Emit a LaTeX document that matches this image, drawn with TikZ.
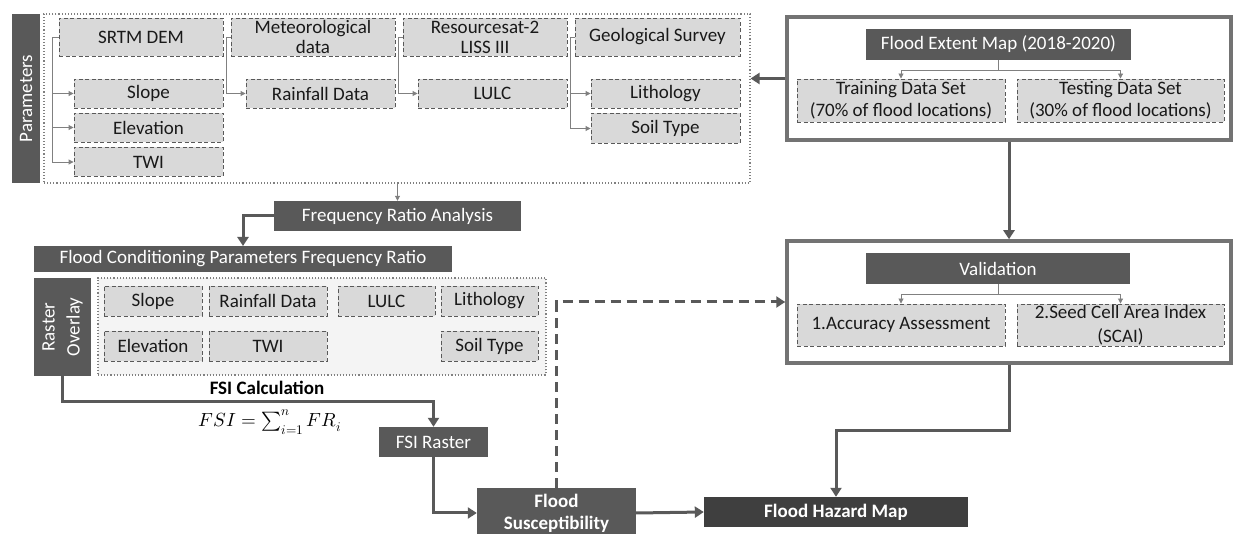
\documentclass[tikz,border=0pt]{standalone}
\usepackage{unicode-math}
\setmainfont{Carlito}
\setmathfont{Latin Modern Math}
\usetikzlibrary{arrows.meta}
\definecolor{boxdark}{HTML}{595959}
\definecolor{boxdarker}{HTML}{3F3F3F}
\definecolor{boxlight}{HTML}{D9D9D9}
\definecolor{framegray}{HTML}{737373}
\definecolor{linegray}{HTML}{808080}
\definecolor{innerfill}{HTML}{F4F4F4}
\tikzset{
  darkbox/.style={fill=boxdark,text=white,inner sep=0pt,align=center},
  lightbox/.style={fill=boxlight,draw=boxdark,dash pattern=on 4pt off 2.5pt,line width=0.9pt,
    inner sep=0pt,align=center,text=black!90},
  framebox/.style={draw=framegray,line width=3.5pt,fill=white,inner sep=0pt},
  dotframe/.style={draw=linegray,dotted,line width=1.1pt,inner sep=0pt},
  thinarrow/.style={draw=linegray,line width=0.9pt,-{Triangle[length=5pt,width=5pt]}},
  thickarrow/.style={draw=boxdark,line width=3pt,-{Triangle[length=9pt,width=11pt]}},
  dasharrow/.style={thickarrow,dash pattern=on 10pt off 6pt},
}
\begin{document}
\begin{tikzpicture}[x=1pt,y=-1pt]
  \useasboundingbox (0,0) rectangle (1235,534);
  {\fontsize{19}{20}\selectfont

  % Drawing parameters frame
  \node (paramsframe) [dotframe,fill=white,minimum width=706pt,minimum height=169pt] at (397,98.5) {};
  \node (params) [darkbox,rotate=90,minimum width=169pt,minimum height=28pt] at (26,98.5) {Parameters};

  % Marking data sources
  \node (srtm) [lightbox,minimum width=164pt,minimum height=38pt] at (141,37) {SRTM DEM};
  \node (meteo) [lightbox,minimum width=164pt,minimum height=38pt] at (313,37) {Meteorological\\data};
  \node (resource) [lightbox,minimum width=164pt,minimum height=38pt] at (485,37) {Resourcesat-2\\LISS III};
  \node (geology) [lightbox,minimum width=165pt,minimum height=38pt] at (657.5,37) {Geological Survey};

  % Marking derived parameters
  \node (slope) [lightbox,minimum width=149pt,minimum height=29pt] at (148.5,93.5) {Slope};
  \node (elev) [lightbox,minimum width=149pt,minimum height=29pt] at (148.5,127.5) {Elevation};
  \node (twi) [lightbox,minimum width=149pt,minimum height=29pt] at (148.5,162) {TWI};
  \node (rain) [lightbox,minimum width=149pt,minimum height=29pt] at (320.5,93.5) {Rainfall Data};
  \node (lulc) [lightbox,minimum width=149pt,minimum height=29pt] at (492.5,93.5) {LULC};
  \node (litho) [lightbox,minimum width=149pt,minimum height=29pt] at (665.5,93.5) {Lithology};
  \node (soil) [lightbox,minimum width=149pt,minimum height=30pt] at (665.5,128.5) {Soil Type};

  % Drawing source connectors
  \foreach \child in {slope,elev,twi}
    \draw [thinarrow] (srtm.west) -- ++(-6,0) |- (\child.west);
  \draw [thinarrow] (meteo.west) -- ++(-4,0) |- (rain.west);
  \draw [thinarrow] (resource.west) -- ++(-4,0) |- (lulc.west);
  \foreach \child in {litho,soil}
    \draw [thinarrow] (geology.west) -- ++(-4,0) |- (\child.west);

  % Drawing flood extent frame
  \node (topframe) [framebox,minimum width=444pt,minimum height=123pt] at (1009,78.5) {};
  \node (fem) [darkbox,minimum width=265pt,minimum height=31pt] at (998.5,44.5) {Flood Extent Map (2018-2020)};
  \node (train) [lightbox,minimum width=208pt,minimum height=43pt,font=\fontsize{19}{22}\selectfont] at (901,100.5) {Training Data Set\\(70\% of flood locations)};
  \node (test) [lightbox,minimum width=207pt,minimum height=43pt,font=\fontsize{19}{22}\selectfont] at (1120.5,100.5) {Testing Data Set\\(30\% of flood locations)};
  \draw [thinarrow] (fem.south) -- ++(0,10) -| (train.north);
  \draw [thinarrow] (fem.south) -- ++(0,10) -| (test.north);
  \draw [thickarrow] (topframe.west) -- (topframe.west -| paramsframe.east);

  % Drawing frequency ratio step
  \node (fra) [darkbox,minimum width=247pt,minimum height=30pt] at (397.5,216) {Frequency Ratio Analysis};
  \node (fcp) [darkbox,minimum width=418pt,minimum height=26pt] at (243,259) {Flood Conditioning Parameters Frequency Ratio};
  \draw [thinarrow] (paramsframe.south -| fra.north) -- (fra.north);
  \draw [thickarrow] (fra.west) -| (243,246);

  % Drawing raster overlay
  \node (raster) [darkbox,rotate=90,minimum width=98pt,minimum height=57pt,font=\fontsize{19}{25}\selectfont] at (62.5,327) {Raster\\Overlay};
  \node (innerframe) [dotframe,fill=innerfill,minimum width=448pt,minimum height=97pt] at (322,326.5) {};
  \node (slope2) [lightbox,minimum width=98pt,minimum height=30pt] at (153,301) {Slope};
  \node (rain2) [lightbox,minimum width=118pt,minimum height=30pt] at (268,301) {Rainfall Data};
  \node (lulc2) [lightbox,minimum width=97pt,minimum height=30pt] at (386.5,301) {LULC};
  \node (litho2) [lightbox,minimum width=97pt,minimum height=30pt] at (489.5,301) {Lithology};
  \node (elev2) [lightbox,minimum width=98pt,minimum height=30pt] at (153,346) {Elevation};
  \node (twi2) [lightbox,minimum width=118pt,minimum height=30pt] at (268,346) {TWI};
  \node (soil2) [lightbox,minimum width=97pt,minimum height=30pt] at (489.5,346) {Soil Type};

  % Drawing FSI calculation
  \node (fsical) at (267,388) {\bfseries FSI Calculation};
  \node (formula) at (270,422) {$FSI = \textstyle\sum_{i=1}^{n} FR_i$};
  \node (fsir) [darkbox,minimum width=109pt,minimum height=30pt] at (433.5,442) {FSI Raster};
  \draw [thickarrow] (raster.west) -- ++(0,25) -| (fsir.north);

  % Drawing susceptibility and hazard
  \node (fsus) [darkbox,minimum width=159pt,minimum height=50pt,font=\fontsize{19}{22}\selectfont\bfseries] at (556.5,513) {Flood\\Susceptibility};
  \node (haz) [darkbox,fill=boxdarker,minimum width=264pt,minimum height=30pt,font=\bfseries] at (836,512) {Flood Hazard Map};
  \draw [thickarrow] (fsir.south) |- (fsus.west);
  \draw [thickarrow] (fsus.east) -- (haz.west);

  % Drawing validation frame
  \node (valframe) [framebox,minimum width=444pt,minimum height=122pt] at (1009,302) {};
  \node (val) [darkbox,minimum width=264pt,minimum height=31pt] at (998,268.5) {Validation};
  \node (acc) [lightbox,minimum width=208pt,minimum height=42pt] at (901,325) {1.Accuracy Assessment};
  \node (seed) [lightbox,minimum width=207pt,minimum height=42pt,font=\fontsize{19}{24}\selectfont] at (1120.5,325) {2.Seed Cell Area Index\\(SCAI)};
  \draw [thinarrow] (val.south) -- ++(0,10) -| (acc.north);
  \draw [thinarrow] (val.south) -- ++(0,10) -| (seed.north);
  \draw [thickarrow] (topframe.south) -- (valframe.north);
  \draw [dasharrow] (fsus.north) |- (valframe.west);
  \draw [thickarrow] (valframe.south) -- ++(0,66) -| (haz.north);
  }
\end{tikzpicture}
\end{document}
